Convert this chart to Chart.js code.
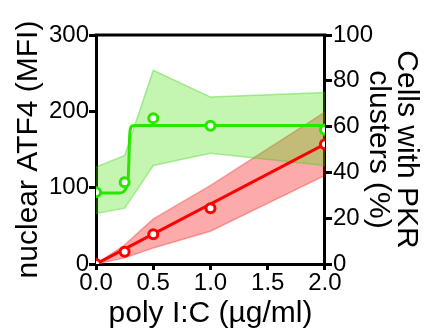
<!DOCTYPE html>
<html>
<head>
<meta charset="utf-8">
<script src="https://cdn.jsdelivr.net/npm/chart.js@4"></script>
<style>
  body { margin: 0; background: #fff; }
  #wrap { width: 427px; height: 331px; }
</style>
</head>
<body>
<div id="wrap"><canvas id="chart"></canvas></div>
<script>
// poly I:C doses (ug/ml)
const doses = [0, 0.25, 0.5, 1, 2];

// cells with PKR clusters (%) - right axis
const pkrMean  = [31.3, 35.7, 63.7, 60.4, 58.6];
const pkrUpper = [42.3, 47.4, 84.6, 72.9, 74.9];
const pkrLower = [22.0, 24.4, 43.0, 48.4, 43.0];
const pkrFitX  = [0, 0.2, 0.24, 0.265, 0.28, 0.287, 0.292, 0.3, 0.32, 0.36, 2];
const pkrFitY  = [31, 31, 31.5, 33.5, 37, 45, 54, 59, 60.4, 60.5, 60.5];

// nuclear ATF4 (MFI) - left axis
const atfMean  = [0, 16, 39, 73, 157];
const atfUpper = [0, 25, 59, 103, 199];
const atfLower = [0, 8, 21, 43, 116];
const atfFitX  = [0, 2];
const atfFitY  = [0, 157];

const xTicks = [0, 0.5, 1, 1.5, 2];

function pts(xs, ys) {
  return xs.map((x, i) => ({ x: x, y: ys[i] }));
}

const GREEN = 'rgb(40,230,0)';
const RED = 'rgb(255,0,0)';
const FONT = 'Liberation Sans';

// top frame line of the plot
const topLine = {
  id: 'topLine',
  afterDraw(chart) {
    const a = chart.chartArea, ctx = chart.ctx;
    ctx.save();
    ctx.strokeStyle = '#000';
    ctx.lineWidth = 3;
    ctx.beginPath();
    ctx.moveTo(a.left - 1.5, a.top);
    ctx.lineTo(a.right + 1.5, a.top);
    ctx.stroke();
    ctx.restore();
  }
};

const pointStyle = {
  showLine: false,
  pointRadius: 4.5,
  pointBorderWidth: 3,
  pointBackgroundColor: '#fff'
};

new Chart(document.getElementById('chart'), {
  type: 'line',
  data: {
    datasets: [
      Object.assign({ data: pts(doses, pkrMean), yAxisID: 'y2', pointBorderColor: GREEN }, pointStyle),
      Object.assign({ data: pts(doses, atfMean), yAxisID: 'y', pointBorderColor: RED }, pointStyle),
      { data: pts(pkrFitX, pkrFitY), yAxisID: 'y2', borderColor: GREEN, borderWidth: 3,
        pointRadius: 0, cubicInterpolationMode: 'monotone' },
      { data: pts(atfFitX, atfFitY), yAxisID: 'y', borderColor: RED, borderWidth: 3, pointRadius: 0 },
      { data: pts(doses, pkrUpper), yAxisID: 'y2', borderColor: 'rgba(40,200,0,0.35)', borderWidth: 1.5,
        pointRadius: 0, fill: '+1', backgroundColor: 'rgba(60,225,0,0.3)' },
      { data: pts(doses, pkrLower), yAxisID: 'y2', borderColor: 'rgba(40,200,0,0.35)', borderWidth: 1.5,
        pointRadius: 0 },
      { data: pts(doses, atfUpper), yAxisID: 'y', borderColor: 'rgba(230,0,0,0.3)', borderWidth: 1.5,
        pointRadius: 0, fill: '+1', backgroundColor: 'rgba(245,0,0,0.33)' },
      { data: pts(doses, atfLower), yAxisID: 'y', borderColor: 'rgba(230,0,0,0.3)', borderWidth: 1.5,
        pointRadius: 0 }
    ]
  },
  options: {
    responsive: true,
    maintainAspectRatio: false,
    animation: false,
    layout: { padding: { left: 12, top: 35, right: 3, bottom: 2 } },
    plugins: { legend: { display: false }, tooltip: { enabled: false } },
    scales: {
      x: {
        type: 'linear', min: 0, max: 2,
        afterBuildTicks: (s) => { s.ticks = xTicks.map(v => ({ value: v })); },
        ticks: { color: '#000', font: { family: FONT, size: 24, lineHeight: 1 }, padding: 1,
                 maxRotation: 0, callback: (v) => v.toFixed(1) },
        grid: { drawOnChartArea: false, color: '#000', lineWidth: 3, tickLength: 6 },
        border: { color: '#000', width: 3 },
        title: { display: true, text: 'poly I:C (µg/ml)', color: '#000',
                 font: { family: FONT, size: 30, lineHeight: 1 }, padding: { top: 3, bottom: 0 } }
      },
      y: {
        position: 'left', min: 0, max: 300,
        ticks: { stepSize: 100, color: '#000', font: { family: FONT, size: 24, lineHeight: 1 }, padding: 0 },
        grid: { drawOnChartArea: false, color: '#000', lineWidth: 3, tickLength: 7 },
        border: { color: '#000', width: 3 },
        title: { display: true, text: 'nuclear ATF4 (MFI)', color: '#000',
                 font: { family: FONT, size: 30, lineHeight: 1.1 }, padding: { top: 0, bottom: 4 } }
      },
      y2: {
        position: 'right', min: 0, max: 100,
        ticks: { stepSize: 20, color: '#000', font: { family: FONT, size: 24, lineHeight: 1 }, padding: 1 },
        grid: { drawOnChartArea: false, color: '#000', lineWidth: 3, tickLength: 7 },
        border: { color: '#000', width: 3 },
        title: { display: true, text: ['Cells with PKR', 'clusters (%)'], color: '#000',
                 font: { family: FONT, size: 30, lineHeight: 0.95 }, padding: { top: 3, bottom: -10 } }
      }
    }
  },
  plugins: [topLine]
});
</script>
</body>
</html>
